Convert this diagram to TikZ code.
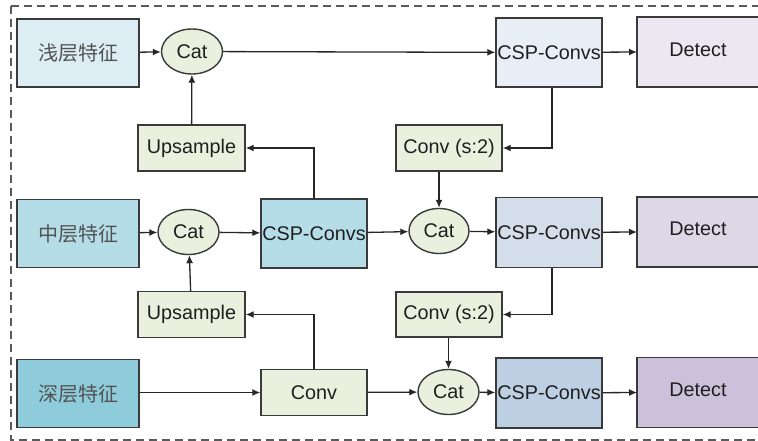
\documentclass[tikz,border=0pt]{standalone}
\usepackage{fontspec}
\setmainfont{Liberation Sans}
\newfontfamily\cjk{Noto Sans CJK SC}
\usetikzlibrary{arrows.meta,shapes.geometric}

\definecolor{edgecol}{HTML}{3A3A3A}
\definecolor{framecol}{HTML}{5A5A5A}
\definecolor{featA}{HTML}{DCEEF4}
\definecolor{featB}{HTML}{B5DDE7}
\definecolor{featC}{HTML}{8FCCDB}
\definecolor{opfill}{HTML}{EAF0DD}
\definecolor{cspA}{HTML}{E8EEF6}
\definecolor{cspB}{HTML}{D4DEEA}
\definecolor{cspC}{HTML}{BDCFE3}
\definecolor{detA}{HTML}{ECE8F1}
\definecolor{detB}{HTML}{DDD7E7}
\definecolor{detC}{HTML}{CCC1DB}

\tikzset{
  base/.style={draw=edgecol, line width=1.4pt, inner sep=0pt, text=black!88,
    font=\fontsize{19.8}{21}\selectfont},
  feat/.style={base, rectangle, minimum width=122pt, minimum height=68pt,
    text=black!68, font=\fontsize{20}{21}\selectfont\cjk},
  opbox/.style={base, rectangle, fill=opfill, minimum width=107pt, minimum height=46pt},
  catnode/.style={base, ellipse, fill=opfill, minimum width=61pt, minimum height=45pt},
  cspbox/.style={base, rectangle, minimum width=106pt, minimum height=69pt},
  detbox/.style={base, rectangle, minimum width=200pt, minimum height=70pt},
  link/.style={draw=black!85, line width=1.3pt, -{Latex[length=8pt,width=7pt]}},
}

\begin{document}
\begin{tikzpicture}[x=1pt, y=-1pt]
\useasboundingbox (0,0) rectangle (758,441);

% outer dashed frame, open towards the right
\draw[framecol, line width=1.5pt, dash pattern=on 8pt off 5pt] (11,6) -- (758,6);
\draw[framecol, line width=1.5pt, dash pattern=on 8pt off 5pt] (11,6) -- (11,440) -- (758,440);

% input features
\node[feat, fill=featA] (f1) at (78,53) {浅层特征};
\node[feat, fill=featB] (f2) at (78,233.5) {中层特征};
\node[feat, fill=featC] (f3) at (78,393.5) {深层特征};

% top-down path
\node[catnode] (cat1) at (192,51.5) {Cat};
\node[opbox] (up1) at (191.5,148) {Upsample};
\node[catnode] (cat2) at (188.5,232) {Cat};
\node[cspbox, fill=featB] (csp0) at (314,233.5) {CSP-Convs};
\node[opbox] (up2) at (191.5,314.5) {Upsample};
\node[opbox, minimum width=106pt] (conv) at (314,392.5) {Conv};

% bottom-up path
\node[cspbox, fill=cspA] (csp1) at (549,52.5) {CSP-Convs};
\node[opbox, minimum width=106pt] (cs1) at (449,148) {Conv (s:2)};
\node[catnode, minimum width=60pt] (cat3) at (439,231) {Cat};
\node[cspbox, fill=cspB, minimum height=70pt] (csp2) at (549,232.5) {CSP-Convs};
\node[opbox, minimum width=106pt, minimum height=45pt] (cs2) at (449,314.5) {Conv (s:2)};
\node[catnode] (cat4) at (448.5,392) {Cat};
\node[cspbox, fill=cspC, minimum height=70pt] (csp3) at (549,393) {CSP-Convs};

% detection heads, open towards the right
\foreach \nm/\yc/\col in {det1/52/detA, det2/232/detB, det3/392.5/detC}{
  \fill[\col] (637,\yc-35) rectangle (758,\yc+35);
  \draw[edgecol, line width=1.4pt] (758,\yc-35) -- (637,\yc-35) -- (637,\yc+35) -- (758,\yc+35);
  \coordinate (\nm) at (637,\yc);
}
\node[base, draw=none] (t1) at (698,50) {Detect};
\node[base, draw=none] (t2) at (698,229) {Detect};
\node[base, draw=none] (t3) at (698,390) {Detect};

% connectors
\draw[link] (f1) -- (cat1);
\draw[link] (cat1) -- (csp1);
\draw[link] (csp1) -- (det1);
\draw[link] (up1) -- (cat1);
\draw[link] (csp0.north) |- (up1.east);

\draw[link] (f2) -- (cat2);
\draw[link] (cat2) -- (csp0);
\draw[link] (csp0) -- (cat3);
\draw[link] (cat3) -- (csp2);
\draw[link] (csp2) -- (det2);
\draw[link] (up2) -- (cat2);
\draw[link] (conv.north) |- (up2.east);

\draw[link] ([xshift=3pt]csp1.south) |- (cs1.east);
\draw[link] (cat3 |- cs1.south) -- (cat3);
\draw[link] ([xshift=3pt]csp2.south) |- (cs2.east);
\draw[link] (cs2.south -| cat4) -- (cat4);

\draw[link] (f3.east |- conv) -- (conv);
\draw[link] (conv) -- (cat4);
\draw[link] (cat4) -- (csp3);
\draw[link] (csp3) -- (det3);
\end{tikzpicture}
\end{document}
